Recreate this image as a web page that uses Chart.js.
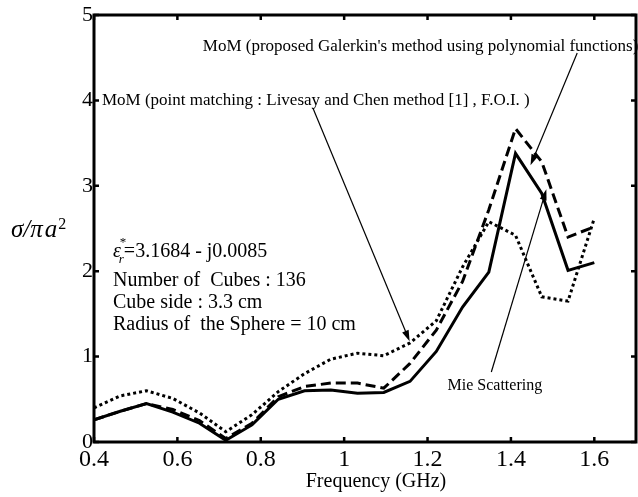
<!DOCTYPE html>
<html>
<head>
<meta charset="utf-8">
<script src="https://cdn.jsdelivr.net/npm/chart.js@4/dist/chart.umd.min.js"></script>
<style>
html,body{margin:0;padding:0;background:#fff;}
#wrap{width:638px;height:497px;}
</style>
</head>
<body>
<div id="wrap"><canvas id="c" width="638" height="497"></canvas></div>
<script>
// ---- data ----
const freqGHz = [0.400, 0.463, 0.526, 0.589, 0.653, 0.716, 0.779, 0.842, 0.905, 0.968,
                 1.032, 1.095, 1.158, 1.221, 1.284, 1.347, 1.411, 1.474, 1.537, 1.600];
const mieSolid = [0.26, 0.36, 0.45, 0.35, 0.22, 0.02, 0.20, 0.50, 0.60, 0.61,
                  0.57, 0.58, 0.71, 1.06, 1.58, 1.99, 3.38, 2.91, 2.01, 2.10];
const galerkinDashed = [0.26, 0.36, 0.45, 0.38, 0.25, 0.04, 0.22, 0.53, 0.65, 0.69,
                        0.69, 0.63, 0.92, 1.31, 1.88, 2.72, 3.67, 3.28, 2.40, 2.52];
const pointMatchDotted = [0.40, 0.54, 0.60, 0.51, 0.34, 0.12, 0.32, 0.59, 0.80, 0.97,
                          1.04, 1.01, 1.16, 1.42, 2.05, 2.58, 2.42, 1.70, 1.65, 2.62];
const xTickValues = [0.4, 0.6, 0.8, 1.0, 1.2, 1.4, 1.6];
const xTickLabels = ["0.4", "0.6", "0.8", "1", "1.2", "1.4", "1.6"];
const yTickValues = [0, 1, 2, 3, 4, 5];
const yTickLabels = ["0", "1", "2", "3", "4", "5"];
const xTitle = "Frequency (GHz)";
const galerkinText = "MoM (proposed Galerkin's method using polynomial functions)";
const pointMatchText = "MoM (point matching : Livesay and Chen method [1] , F.O.I. )";
const mieText = "Mie Scattering";
const paramLines = ["Number of  Cubes : 136", "Cube side : 3.3 cm", "Radius of  the Sphere = 10 cm"];
const epsValue = "=3.1684 - j0.0085";
// annotation anchors in data units [freq, value]
const galerkinTextAt = [0.661, 4.58];
const galerkinArrow = [[1.559, 4.555], [1.447, 3.24]];
const pointMatchTextAt = [0.419, 3.95];
const pointMatchArrow = [[0.925, 3.91], [1.157, 1.18]];
const mieTextAt = [1.248, 0.61];
const mieArrow = [[1.353, 0.82], [1.485, 2.96]];
const epsAt = [0.4455, 2.17];
const paramBaselines = [1.83, 1.57, 1.31];

const SERIF = '"Liberation Serif", "Times New Roman", serif';

function toXY(vals){ return freqGHz.map((f,i)=>({x:f, y:vals[i]})); }

const decor = {
  id: 'decor',
  afterDatasetsDraw(chart){
    const ctx = chart.ctx, a = chart.chartArea;
    const xs = chart.scales.x, ys = chart.scales.y;
    const px = v => xs.getPixelForValue(v), py = v => ys.getPixelForValue(v);
    ctx.save();
    // frame
    ctx.strokeStyle = '#000'; ctx.lineWidth = 3;
    ctx.strokeRect(a.left, a.top, a.right - a.left, a.bottom - a.top);
    // inward ticks
    ctx.lineWidth = 2.5;
    const tl = 5;
    ctx.beginPath();
    xTickValues.forEach(v => {
      const x = px(v);
      ctx.moveTo(x, a.bottom); ctx.lineTo(x, a.bottom - tl);
      ctx.moveTo(x, a.top); ctx.lineTo(x, a.top + tl);
    });
    yTickValues.forEach(v => {
      const y = py(v);
      ctx.moveTo(a.left, y); ctx.lineTo(a.left + tl, y);
      ctx.moveTo(a.right, y); ctx.lineTo(a.right - tl, y);
    });
    ctx.stroke();

    ctx.fillStyle = '#000';
    ctx.textBaseline = 'alphabetic';
    ctx.textAlign = 'left';
    // x title
    ctx.font = '20px ' + SERIF;
    ctx.textAlign = 'center';
    ctx.fillText(xTitle, 376, 487);
    ctx.textAlign = 'left';
    // y title
    ctx.font = 'italic 25px ' + SERIF;
    let tx = 11;
    const yt1 = '\u03C3/\u03C0';
    ctx.fillText(yt1, tx, 237);
    tx += ctx.measureText(yt1).width + 2;
    ctx.fillText('a', tx, 237);
    tx += ctx.measureText('a').width + 1;
    ctx.font = '16px ' + SERIF;
    ctx.fillText('2', tx, 229);

    // annotation texts
    ctx.font = '17px ' + SERIF;
    ctx.fillText(galerkinText, px(galerkinTextAt[0]), py(galerkinTextAt[1]));
    ctx.fillText(pointMatchText, px(pointMatchTextAt[0]), py(pointMatchTextAt[1]));
    ctx.font = '16px ' + SERIF;
    ctx.fillText(mieText, px(mieTextAt[0]), py(mieTextAt[1]));

    // arrows
    function arrow(seg){
      const x1 = px(seg[0][0]), y1 = py(seg[0][1]);
      const x2 = px(seg[1][0]), y2 = py(seg[1][1]);
      const ang = Math.atan2(y2 - y1, x2 - x1);
      const L = 11, W = 3.5;
      ctx.lineWidth = 1.2;
      ctx.beginPath();
      ctx.moveTo(x1, y1);
      ctx.lineTo(x2 - Math.cos(ang) * L * 0.8, y2 - Math.sin(ang) * L * 0.8);
      ctx.stroke();
      ctx.beginPath();
      ctx.moveTo(x2, y2);
      ctx.lineTo(x2 - Math.cos(ang) * L - Math.sin(ang) * W, y2 - Math.sin(ang) * L + Math.cos(ang) * W);
      ctx.lineTo(x2 - Math.cos(ang) * L + Math.sin(ang) * W, y2 - Math.sin(ang) * L - Math.cos(ang) * W);
      ctx.closePath();
      ctx.fill();
    }
    arrow(galerkinArrow);
    arrow(pointMatchArrow);
    arrow(mieArrow);

    // epsilon line
    const ex = px(epsAt[0]), ey = py(epsAt[1]);
    ctx.font = 'italic 20px ' + SERIF;
    ctx.fillText('\u03B5', ex, ey);
    const ew = ctx.measureText('\u03B5').width;
    ctx.font = '13px ' + SERIF;
    ctx.fillText('*', ex + ew - 1, ey - 11);
    ctx.font = 'italic 13px ' + SERIF;
    ctx.fillText('r', ex + ew - 2, ey + 6);
    ctx.font = '20px ' + SERIF;
    ctx.fillText(epsValue, ex + ew + 3, ey);
    paramLines.forEach((t, i) => ctx.fillText(t, ex, py(paramBaselines[i])));
    ctx.restore();
  }
};

new Chart(document.getElementById('c'), {
  type: 'line',
  data: {
    datasets: [
      { label: 'Mie Scattering', data: toXY(mieSolid), borderColor: '#000', borderWidth: 3,
        pointRadius: 0, fill: false, tension: 0 },
      { label: 'MoM Galerkin', data: toXY(galerkinDashed), borderColor: '#000', borderWidth: 3,
        borderDash: [10, 5], pointRadius: 0, fill: false, tension: 0 },
      { label: 'MoM point matching', data: toXY(pointMatchDotted), borderColor: '#000', borderWidth: 3,
        borderDash: [3, 3], pointRadius: 0, fill: false, tension: 0 }
    ]
  },
  options: {
    responsive: false,
    devicePixelRatio: 1,
    animation: false,
    layout: { padding: { top: 15, right: 2, left: 0, bottom: 0 } },
    plugins: { legend: { display: false }, tooltip: { enabled: false } },
    scales: {
      x: {
        type: 'linear', min: 0.4, max: 1.7,
        grid: { display: false, drawTicks: false },
        border: { display: false },
        afterBuildTicks: s => { s.ticks = xTickValues.map(v => ({ value: v })); },
        afterFit: s => { s.height = 55; },
        ticks: {
          color: '#000', padding: 3, maxRotation: 0, autoSkip: false,
          font: { family: SERIF, size: 24 },
          callback: (v) => { const i = xTickValues.findIndex(t => Math.abs(t - v) < 1e-6); return i >= 0 ? xTickLabels[i] : ''; }
        }
      },
      y: {
        type: 'linear', min: 0, max: 5,
        grid: { display: false, drawTicks: false },
        border: { display: false },
        afterBuildTicks: s => { s.ticks = yTickValues.map(v => ({ value: v })); },
        afterFit: s => { s.width = 94; },
        ticks: {
          color: '#000', padding: 1, autoSkip: false,
          font: { family: SERIF, size: 22 },
          callback: (v) => { const i = yTickValues.findIndex(t => Math.abs(t - v) < 1e-6); return i >= 0 ? yTickLabels[i] : ''; }
        }
      }
    }
  },
  plugins: [decor]
});
</script>
</body>
</html>
